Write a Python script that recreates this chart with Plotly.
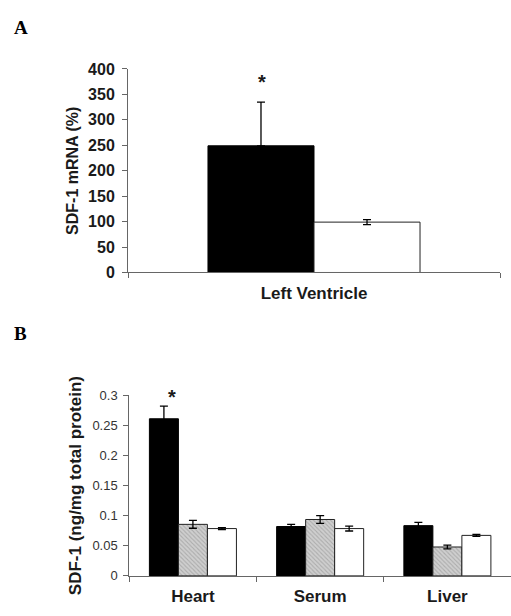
import plotly.graph_objects as go

# ---- Panel A data ----
cats_a = ["Left Ventricle"]
a_black = [249]
a_black_err = [86]
a_white = [99]
a_white_err = [5]
a_ticks = [0, 50, 100, 150, 200, 250, 300, 350, 400]

# ---- Panel B data ----
cats_b = ["Heart", "Serum", "Liver"]
b_black = [0.261, 0.082, 0.0835]
b_black_err = [0.021, 0.0037, 0.0055]
b_hatch = [0.0856, 0.0937, 0.048]
b_hatch_err = [0.0065, 0.0065, 0.003]
b_white = [0.0786, 0.0786, 0.0673]
b_white_err = [0.0015, 0.004, 0.0015]
b_ticks = [0, 0.05, 0.1, 0.15, 0.2, 0.25, 0.3]
b_ticktext = ["0", "0.05", "0.1", "0.15", "0.2", "0.25", "0.3"]

FONT = "Liberation Sans, Arial, sans-serif"
INK = "#1a1a1a"
AXC = "#666666"

fig = go.Figure()

err_style = dict(type="data", color="black", thickness=1.3, width=4)

wa = 0.285
fig.add_trace(go.Bar(x=cats_a, y=a_black, xaxis="x", yaxis="y",
                     marker=dict(color="black", line=dict(color="black", width=1)),
                     error_y=dict(array=a_black_err, symmetric=False, arrayminus=[0]*len(a_black_err), **err_style),
                     width=wa, offset=-wa, showlegend=False))
fig.add_trace(go.Bar(x=cats_a, y=a_white, xaxis="x", yaxis="y",
                     marker=dict(color="white", line=dict(color="#222", width=1)),
                     error_y=dict(array=a_white_err, **err_style),
                     width=wa, offset=0, showlegend=False))

wb = 0.228
fig.add_trace(go.Bar(x=cats_b, y=b_black, xaxis="x2", yaxis="y2",
                     marker=dict(color="black", line=dict(color="black", width=1)),
                     error_y=dict(array=b_black_err, **err_style),
                     width=wb, offset=-1.5 * wb, showlegend=False))
fig.add_trace(go.Bar(x=cats_b, y=b_hatch, xaxis="x2", yaxis="y2",
                     marker=dict(color="#c8c8c8", line=dict(color="#222", width=1),
                                 pattern=dict(shape="\\", fgcolor="#888888", bgcolor="#cfcfcf",
                                              size=3, solidity=0.35)),
                     error_y=dict(array=b_hatch_err, **err_style),
                     width=wb, offset=-0.5 * wb, showlegend=False))
fig.add_trace(go.Bar(x=cats_b, y=b_white, xaxis="x2", yaxis="y2",
                     marker=dict(color="white", line=dict(color="#222", width=1)),
                     error_y=dict(array=b_white_err, **err_style),
                     width=wb, offset=0.5 * wb, showlegend=False))

W, H = 511, 616

def px_x(p):
    return p / W

def px_y(p):
    return 1 - p / H

fig.update_layout(
    width=W, height=H,
    margin=dict(l=0, r=0, t=0, b=0),
    paper_bgcolor="white", plot_bgcolor="white",
    barmode="overlay",
    font=dict(family=FONT, color=INK),
    xaxis=dict(domain=[px_x(128), px_x(500)], anchor="y", type="category",
               showline=True, linecolor=AXC, linewidth=1, ticks="outside",
               tickson="boundaries", ticklen=5, tickcolor=AXC,
               tickfont=dict(size=17, family=FONT, color=INK, weight="bold"),
               ticklabelstandoff=5, showgrid=False, zeroline=False),
    yaxis=dict(domain=[px_y(272), px_y(62.7)], anchor="x", range=[0, 400],
               tickvals=a_ticks, showline=True, linecolor=AXC, linewidth=1,
               ticks="outside", ticklen=5, tickcolor=AXC, showgrid=False, zeroline=False,
               tickfont=dict(size=16, family=FONT, color=INK, weight="bold"),
               ticklabelstandoff=4,
               title=dict(text="SDF-1 mRNA (%)", standoff=5,
                          font=dict(size=16, family=FONT, color=INK, weight="bold"))),
    xaxis2=dict(domain=[px_x(129.3), 1.0], anchor="y2", type="category",
                showline=True, linecolor=AXC, linewidth=1, ticks="outside",
                tickson="boundaries", ticklen=5, tickcolor=AXC,
                tickfont=dict(size=17, family=FONT, color=INK, weight="bold"),
                ticklabelstandoff=5, showgrid=False, zeroline=False),
    yaxis2=dict(domain=[px_y(584), px_y(398.3)], anchor="x2", range=[0, 0.3],
                tickvals=b_ticks, ticktext=b_ticktext, showline=True, linecolor=AXC,
                linewidth=1, ticks="outside", ticklen=5, tickcolor=AXC,
                showgrid=False, zeroline=False,
                tickfont=dict(size=13, family=FONT, color="#333"),
                ticklabelstandoff=3,
                title=dict(text="SDF-1 (ng/mg total protein)", standoff=6,
                           font=dict(size=17, family=FONT, color=INK, weight="bold"))),
    annotations=[
        dict(text="A", x=px_x(12), y=px_y(20), xref="paper", yref="paper",
             xanchor="left", yanchor="middle", showarrow=False,
             font=dict(family="Liberation Serif, Times New Roman, serif", size=19, color="black", weight="bold")),
        dict(text="B", x=px_x(12), y=px_y(335), xref="paper", yref="paper",
             xanchor="left", yanchor="middle", showarrow=False,
             font=dict(family="Liberation Serif, Times New Roman, serif", size=19, color="black", weight="bold")),
        dict(text="*", x=cats_a[0], y=a_black[0] + a_black_err[0], xref="x", yref="y",
             xshift=-52, yshift=7, showarrow=False, yanchor="bottom",
             font=dict(size=20, family=FONT, color=INK, weight="bold")),
        dict(text="*", x=cats_b[0], y=b_black[0] + b_black_err[0], xref="x2", yref="y2",
             xshift=-21, yshift=-4, showarrow=False, yanchor="bottom",
             font=dict(size=20, family=FONT, color=INK, weight="bold")),
    ],
)

fig.write_html("out.html", config={"displayModeBar": False},
               post_script="document.body.style.margin='0';document.body.style.overflow='hidden';")
